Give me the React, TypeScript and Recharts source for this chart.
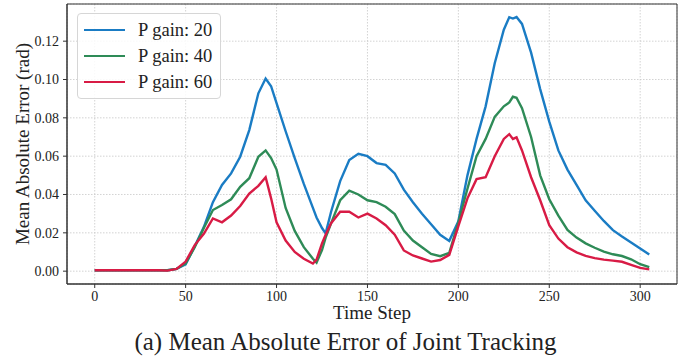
import { CartesianGrid, Line, LineChart, ReferenceArea, XAxis, YAxis } from 'recharts'

const STEPS = [
  0, 5, 10, 15, 20, 25, 30, 35, 40, 45, 50, 55, 60, 65, 70, 75, 80, 85, 90, 94, 97, 100, 105, 110, 115, 120, 122, 125,
  127, 130, 135, 140, 145, 150, 155, 160, 165, 170, 175, 180, 185, 190, 195, 200, 205, 210, 215, 220, 225, 228, 230,
  232, 235, 240, 245, 250, 255, 260, 265, 270, 275, 280, 285, 290, 295, 300, 305,
]

const GAIN_20 = [
  0.0005, 0.0005, 0.0005, 0.0005, 0.0005, 0.0005, 0.0005, 0.0005, 0.0005, 0.0012, 0.0035, 0.013, 0.023, 0.036, 0.045,
  0.051, 0.0597, 0.0736, 0.0928, 0.1005, 0.0965, 0.0877, 0.073, 0.059, 0.0455, 0.033, 0.028, 0.0225, 0.0197, 0.031,
  0.047, 0.058, 0.0612, 0.06, 0.0564, 0.0555, 0.051, 0.0425, 0.036, 0.03, 0.0245, 0.019, 0.0158, 0.026, 0.05, 0.069,
  0.086, 0.1085, 0.126, 0.1325, 0.1318, 0.1326, 0.129, 0.114, 0.095, 0.078, 0.063, 0.053, 0.045, 0.037, 0.0315, 0.0262,
  0.0214, 0.0181, 0.015, 0.0118, 0.0087,
]

const GAIN_40 = [
  0.0005, 0.0005, 0.0005, 0.0005, 0.0005, 0.0005, 0.0005, 0.0005, 0.0005, 0.0012, 0.004, 0.0125, 0.0225, 0.0319, 0.0345,
  0.0375, 0.044, 0.0485, 0.0597, 0.063, 0.059, 0.053, 0.033, 0.021, 0.0125, 0.0065, 0.0045, 0.011, 0.0175, 0.0249,
  0.037, 0.042, 0.04, 0.037, 0.036, 0.0336, 0.0298, 0.0212, 0.016, 0.0125, 0.009, 0.0078, 0.0095, 0.0255, 0.043, 0.06,
  0.069, 0.0805, 0.086, 0.088, 0.091, 0.0905, 0.085, 0.07, 0.05, 0.0375, 0.029, 0.0215, 0.0175, 0.0145, 0.0122, 0.0102,
  0.0088, 0.0079, 0.0062, 0.0036, 0.0021,
]

const GAIN_60 = [
  0.0005, 0.0005, 0.0005, 0.0005, 0.0005, 0.0005, 0.0005, 0.0005, 0.0003, 0.0012, 0.005, 0.0136, 0.0195, 0.0275, 0.0255,
  0.029, 0.034, 0.0405, 0.0445, 0.049, 0.038, 0.0255, 0.016, 0.01, 0.0065, 0.004, 0.006, 0.0145, 0.019, 0.025, 0.031,
  0.031, 0.028, 0.03, 0.0275, 0.024, 0.019, 0.0108, 0.0082, 0.0066, 0.005, 0.0058, 0.0085, 0.0235, 0.038, 0.048, 0.049,
  0.06, 0.069, 0.0715, 0.069, 0.0698, 0.063, 0.049, 0.037, 0.024, 0.017, 0.0125, 0.0098, 0.008, 0.0068, 0.006, 0.0055,
  0.0049, 0.0033, 0.0017, 0.0009,
]

const X_TICKS = [0, 50, 100, 150, 200, 250, 300]
const Y_TICKS = [0, 0.02, 0.04, 0.06, 0.08, 0.1, 0.12]
const X_DOMAIN: [number, number] = [-15.25, 320.25]
const Y_DOMAIN: [number, number] = [-0.0067, 0.1394]

const SERIES = [
  { key: 'g20', name: 'P gain: 20', color: '#1a7cc4', values: GAIN_20 },
  { key: 'g40', name: 'P gain: 40', color: '#2e8b57', values: GAIN_40 },
  { key: 'g60', name: 'P gain: 60', color: '#d81b45', values: GAIN_60 },
]

const data = STEPS.map((t, i) => {
  const row: Record<string, number> = { t }
  SERIES.forEach((s) => (row[s.key] = s.values[i]))
  return row
})

const FONT = '"Liberation Serif", "Times New Roman", serif'
const INK = '#222'
const FRAME = '#333'

export default function App() {
  return (
    <div style={{ position: 'absolute', left: 0, top: 0, width: 691, height: 362, background: '#fff', fontFamily: FONT }}>
      <LineChart width={691} height={362} data={data} margin={{ top: 4, right: 14, bottom: 0, left: 0 }}>
        <CartesianGrid stroke="#c8c8c8" strokeDasharray="1.5 1.5" strokeWidth={0.8} />
        <XAxis
          dataKey="t"
          type="number"
          domain={X_DOMAIN}
          ticks={X_TICKS}
          allowDataOverflow
          height={78}
          tickSize={4}
          tickMargin={3}
          tick={{ fill: INK, fontSize: 14, fontFamily: FONT }}
          axisLine={{ stroke: FRAME }}
          tickLine={{ stroke: FRAME }}
          label={{
            value: 'Time Step',
            position: 'insideTop',
            offset: 22,
            style: { fill: INK, fontSize: 19, fontFamily: FONT },
          }}
        />
        <YAxis
          type="number"
          domain={Y_DOMAIN}
          ticks={Y_TICKS}
          allowDataOverflow
          width={67}
          tickSize={4}
          tickMargin={4}
          tickFormatter={(v: number) => v.toFixed(2)}
          tick={{ fill: INK, fontSize: 14, fontFamily: FONT }}
          axisLine={{ stroke: FRAME }}
          tickLine={{ stroke: FRAME }}
          label={{
            value: 'Mean Absolute Error (rad)',
            angle: -90,
            position: 'insideLeft',
            offset: 22,
            style: { fill: INK, fontSize: 19, fontFamily: FONT, textAnchor: 'middle' },
          }}
        />
        <ReferenceArea
          x1={X_DOMAIN[0]}
          x2={X_DOMAIN[1]}
          y1={Y_DOMAIN[0]}
          y2={Y_DOMAIN[1]}
          stroke={FRAME}
          strokeWidth={1}
          fill="none"
          fillOpacity={0}
          ifOverflow="visible"
        />
        {SERIES.map((s) => (
          <Line
            key={s.key}
            type="linear"
            dataKey={s.key}
            name={s.name}
            stroke={s.color}
            strokeWidth={2.4}
            dot={false}
            isAnimationActive={false}
          />
        ))}
      </LineChart>

      {/* legend box, top-left inside the axes */}
      <div
        style={{
          position: 'absolute',
          left: 77,
          top: 13,
          width: 144,
          height: 86,
          border: '1px solid #d6d6d6',
          borderRadius: 4,
          background: 'rgba(255,255,255,0.85)',
          boxSizing: 'border-box',
        }}
      >
        {SERIES.map((s, i) => (
          <div key={s.key} style={{ position: 'absolute', left: 0, top: 3 + i * 26, height: 26, width: '100%' }}>
            <div style={{ position: 'absolute', left: 6, top: 12, width: 41, height: 0, borderTop: `2.4px solid ${s.color}` }} />
            <div style={{ position: 'absolute', left: 60, top: 0, lineHeight: '26px', fontSize: 18.5, color: INK }}>
              {s.name}
            </div>
          </div>
        ))}
      </div>

      <div
        style={{
          position: 'absolute',
          left: 0,
          top: 329,
          width: 691,
          textAlign: 'center',
          fontSize: 25,
          lineHeight: '25px',
          color: INK,
        }}
      >
        (a) Mean Absolute Error of Joint Tracking
      </div>
    </div>
  )
}
